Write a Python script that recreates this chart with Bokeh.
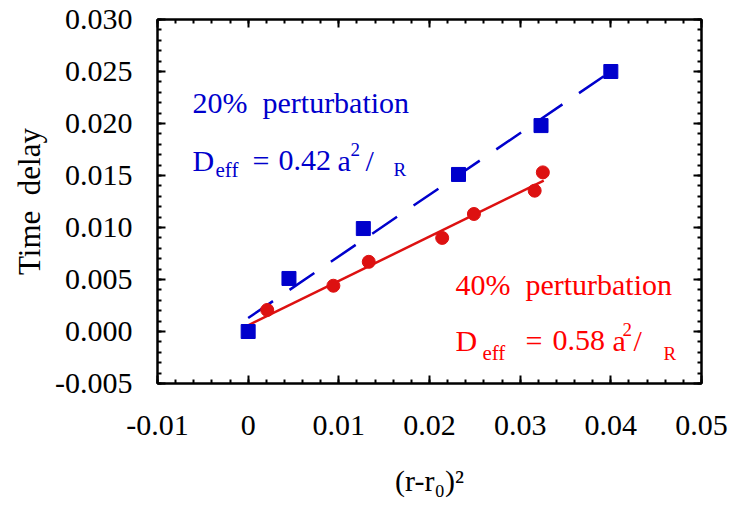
import numpy as np
from bokeh.plotting import figure
from bokeh.models import (Range1d, LinearAxis, FixedTicker, CustomJSTickFormatter, Label)
from bokeh.embed import file_html
from bokeh.resources import INLINE

# ---- data ----
blue_x = [0.0, 0.0045, 0.0127, 0.0232, 0.0323, 0.0400]
blue_y = [0.0, 0.0051, 0.0099, 0.0151, 0.0198, 0.0250]
red_x = [0.0021, 0.0094, 0.0133, 0.0214, 0.0249, 0.0316, 0.0325]
red_y = [0.00207, 0.0044, 0.0067, 0.0090, 0.0113, 0.01354, 0.0153]
blue_fit_x = [0.0, 0.0400]
blue_fit_y = [0.0013, 0.0250]
red_fit_x = [0.0, 0.0326]
red_fit_y = [0.0006, 0.0145]

x_ticks = [-0.01, 0.0, 0.01, 0.02, 0.03, 0.04, 0.05]
x_tick_labels = ["-0.01", "0", "0.01", "0.02", "0.03", "0.04", "0.05"]
y_ticks = [-0.005, 0.0, 0.005, 0.010, 0.015, 0.020, 0.025, 0.030]
y_tick_labels = ["-0.005", "0.000", "0.005", "0.010", "0.015", "0.020", "0.025", "0.030"]

x_label = "(r-r\u2080)\u00b2"
y_label = "Time\u00a0 delay"
blue_title = "20%\u00a0 perturbation"
red_title = "40%\u00a0 perturbation"
blue_value = "0.42"
red_value = "0.58"

FONT = "Liberation Serif"
BLUE = "#0000cc"
RED_M = "#dd1111"
RED_T = "#ff0000"

p = figure(width=735, height=506, output_backend="svg", toolbar_location=None,
           x_range=Range1d(-0.01, 0.05), y_range=Range1d(-0.005, 0.03),
           min_border_left=157, min_border_right=34, min_border_top=19, min_border_bottom=123,
           x_axis_location=None, y_axis_location=None)
p.background_fill_color = "white"
p.border_fill_color = "white"
p.outline_line_color = "black"
p.outline_line_width = 2
p.xgrid.visible = False
p.ygrid.visible = False

x_minor = list(np.round(np.arange(-0.01, 0.05001, 0.002), 6))
y_minor = list(np.round(np.arange(-0.005, 0.03001, 0.001), 6))

def fmt(ticks, labels):
    return CustomJSTickFormatter(args=dict(tv=ticks, tl=labels), code="""
        for (let i = 0; i < tv.length; i++) { if (Math.abs(tv[i] - tick) < 1e-9) return tl[i]; }
        return '';
    """)

blank = CustomJSTickFormatter(code="return '';")

def style(ax, labels=True):
    ax.axis_line_color = "black"
    ax.axis_line_width = 2
    ax.major_tick_in = 8
    ax.major_tick_out = 0
    ax.minor_tick_in = 4
    ax.minor_tick_out = 0
    ax.major_tick_line_width = 2
    ax.minor_tick_line_width = 2
    ax.major_label_text_font = FONT
    ax.major_label_text_font_size = "30px" if labels else "0px"
    ax.major_label_text_color = "black"
    ax.axis_label_text_font = FONT
    ax.axis_label_text_font_size = "30px"
    ax.axis_label_text_font_style = "normal"
    ax.axis_label_text_color = "black"

xb = LinearAxis(ticker=FixedTicker(ticks=x_ticks, minor_ticks=x_minor),
                formatter=fmt(x_ticks, x_tick_labels), axis_label=x_label)
style(xb)
xb.major_label_standoff = 32
xb.axis_label_standoff = 26
p.add_layout(xb, "below")

yl = LinearAxis(ticker=FixedTicker(ticks=y_ticks, minor_ticks=y_minor),
                formatter=fmt(y_ticks, y_tick_labels), axis_label=y_label)
style(yl)
yl.major_label_standoff = 25
yl.axis_label_standoff = 5
yl.axis_label_text_font_size = "31px"
p.add_layout(yl, "left")

xt = LinearAxis(ticker=FixedTicker(ticks=x_ticks, minor_ticks=x_minor), formatter=blank)
style(xt, labels=False)
xt.major_label_standoff = 0
p.add_layout(xt, "above")

yr = LinearAxis(ticker=FixedTicker(ticks=y_ticks, minor_ticks=y_minor), formatter=blank)
style(yr, labels=False)
yr.major_label_standoff = 0
p.add_layout(yr, "right")

# fit lines
p.line(blue_fit_x, blue_fit_y, line_color=BLUE, line_width=2.5, line_dash="30 20")
p.line(red_fit_x, red_fit_y, line_color=RED_M, line_width=2.5)

# markers
p.scatter(blue_x, blue_y, marker="square", size=14, fill_color=BLUE, line_color=BLUE)
p.scatter(red_x, red_y, marker="circle", size=13, fill_color=RED_M, line_color=RED_M)

# annotations
LIFT = 11
def lab(x, y, text, color, size, dx=0, dy=0):
    p.add_layout(Label(x=x, y=y, x_units="data", y_units="data", text=text,
                       text_font=FONT, text_font_size=size, text_color=color,
                       text_baseline="alphabetic", text_align="left",
                       x_offset=dx, y_offset=dy + LIFT))

def block(x, y1, y2, title, val, color, off):
    lab(x, y1, title, color, "30px")
    lab(x, y2, "D", color, "30px")
    lab(x, y2, "eff", color, "21px", dx=off["eff"], dy=-off["sub"])
    lab(x, y2, "=", color, "30px", dx=off["eq"])
    lab(x, y2, val, color, "30px", dx=off["val"])
    lab(x, y2, "a", color, "30px", dx=off["a"])
    lab(x, y2, "2", color, "19px", dx=off["sup"], dy=11)
    lab(x, y2, "/", color, "30px", dx=off["sl"])
    lab(x, y2, "R", color, "19px", dx=off["R"], dy=-off["sub"])

block(-0.00614, 0.02096, 0.01538, blue_title, blue_value, BLUE,
      dict(eff=23, sub=9, eq=60, val=86, a=145, sup=158, sl=173, R=201))
block(0.02286, 0.00346, -0.00192, red_title, red_value, RED_T,
      dict(eff=27, sub=13, eq=70, val=97, a=157, sup=167, sl=178, R=208))

open("out.html", "w").write(file_html(p, INLINE))
